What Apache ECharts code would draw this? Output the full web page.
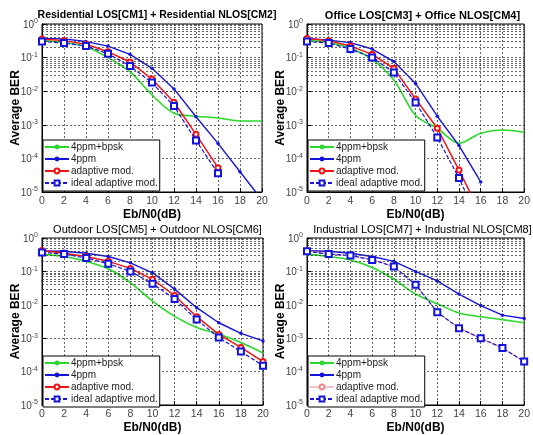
<!DOCTYPE html>
<html>
<head>
<meta charset="utf-8">
<script src="https://cdn.jsdelivr.net/npm/echarts@6/dist/echarts.min.js"></script>
<style>
html,body{margin:0;padding:0;background:#fff;}
#chart{width:533px;height:435px;}
</style>
</head>
<body>
<div id="chart"></div>
<script>
const ebn0 = [0, 2, 4, 6, 8, 10, 12, 14, 16, 18, 20];
const xTicks = [0, 2, 4, 6, 8, 10, 12, 14, 16, 18, 20];
const seriesNames = ['4ppm+bpsk', '4ppm', 'adaptive mod.', 'ideal adaptive mod.'];
const panelTitles = ['Residential LOS[CM1] + Residential NLOS[CM2]', 'Office LOS[CM3] + Office NLOS[CM4]',
  'Outdoor LOS[CM5] + Outdoor NLOS[CM6]', 'Industrial LOS[CM7] + Industrial NLOS[CM8]'];

// Residential
const resBpsk = [0.33, 0.28, 0.21, 0.10, 0.038, 0.0077, 0.0022, 0.0018, 0.0016, 0.0013, 0.0013];
const resPpm = [0.37, 0.36, 0.30, 0.22, 0.125, 0.048, 0.0117, 0.00174, 0.00028, 4.0e-5, 5.8e-6];
const resAdapt = [0.36, 0.32, 0.25, 0.15, 0.074, 0.023, 0.0047, 5.2e-4, 5.3e-5];
const resIdeal = [0.30, 0.27, 0.22, 0.13, 0.056, 0.018, 0.0036, 3.4e-4, 3.6e-5];
// Office
const offBpsk = [0.33, 0.28, 0.19, 0.089, 0.0215, 0.0019, 7.9e-4, 2.8e-4, 5.6e-4, 7.0e-4, 6.0e-4];
const offPpm = [0.37, 0.33, 0.28, 0.18, 0.076, 0.017, 0.0018, 2.4e-4, 2.0e-5];
const offAdapt = [0.37, 0.32, 0.22, 0.125, 0.048, 0.0059, 7.9e-4, 4.5e-5, 2.2e-6];
const offIdeal = [0.30, 0.27, 0.18, 0.10, 0.036, 0.0046, 4.2e-4, 2.6e-5, 1.0e-6];
// Outdoor
const outBpsk = [0.33, 0.28, 0.20, 0.12, 0.046, 0.0128, 0.0045, 0.0021, 0.00134, 7.4e-4, 3.6e-4];
const outPpm = [0.41, 0.40, 0.35, 0.28, 0.18, 0.091, 0.0295, 0.0082, 0.0029, 0.0014, 8.3e-4];
const outAdapt = [0.42, 0.35, 0.28, 0.20, 0.123, 0.058, 0.019, 0.0044, 0.0013, 5.3e-4, 2.0e-4];
const outIdeal = [0.37, 0.33, 0.25, 0.17, 0.10, 0.043, 0.015, 0.0036, 0.00105, 4.0e-4, 1.5e-4];
// Industrial
const indBpsk = [0.33, 0.28, 0.22, 0.13, 0.058, 0.021, 0.0107, 0.0057, 0.0044, 0.0036, 0.0029];
const indPpm = [0.42, 0.40, 0.35, 0.28, 0.20, 0.10, 0.052, 0.021, 0.0095, 0.0049, 0.0039];
const indAdapt = [0.42, 0.33, 0.30, 0.23, 0.14, 0.040, 0.006, 0.0020, 0.0010, 5.1e-4, 2.0e-4];
const indIdeal = [0.40, 0.33, 0.30, 0.22, 0.14, 0.040, 0.006, 0.0020, 0.0010, 5.1e-4, 2.0e-4];

const panels = [
  [resBpsk, resPpm, resAdapt, resIdeal],
  [offBpsk, offPpm, offAdapt, offIdeal],
  [outBpsk, outPpm, outAdapt, outIdeal],
  [indBpsk, indPpm, indAdapt, indIdeal]
];

const grids = [
  {left: 42, top: 24, width: 220, height: 168},
  {left: 307, top: 24, width: 221, height: 168},
  {left: 42, top: 238, width: 221, height: 170},
  {left: 307, top: 238, width: 221, height: 170}
];

const FONT = 'Liberation Sans, Arial, sans-serif';
const GREEN = '#2ad82a', BLUE = '#1414dc', RED = '#f01414', PINK = '#f08a8a';
const gridLine = {color: '#333', width: 1, type: [2, 2], opacity: 0.75};

const minorVals = [];
for (let d = -5; d <= -1; d++) for (let k = 2; k <= 9; k++) minorVals.push(+(k * Math.pow(10, d)).toPrecision(3));

function pairs(vals) { return vals.map((v, i) => [ebn0[i], v]); }

const option = {
  animation: false,
  backgroundColor: '#fff',
  textStyle: {fontFamily: FONT},
  title: panelTitles.map((t, i) => ({
    text: t,
    left: grids[i].left + grids[i].width / 2,
    top: i < 2 ? 5 : 219,
    textAlign: 'center',
    textStyle: {fontFamily: FONT, fontSize: i === 0 ? 10.5 : 11, fontWeight: i < 2 ? 'bold' : 'normal', color: '#000'}
  })),
  grid: grids.map(g => Object.assign({show: true, borderColor: '#000', borderWidth: 1, backgroundColor: '#fff'}, g)),
  xAxis: grids.map((g, i) => ({
    gridIndex: i, type: 'value', min: 0, max: 20, interval: 2,
    name: 'Eb/N0(dB)', nameLocation: 'middle', nameGap: 17, nameMoveOverlap: false,
    nameTextStyle: {fontFamily: FONT, fontSize: 12, fontWeight: 'bold', color: '#000'},
    axisLine: {show: true, lineStyle: {color: '#000'}},
    axisTick: {show: true, inside: true, length: 4, lineStyle: {color: '#000'}},
    axisLabel: {fontFamily: FONT, fontSize: 10.5, color: '#444', margin: 4,
      formatter: v => xTicks.indexOf(v) >= 0 ? String(v) : ''},
    splitLine: {show: true, lineStyle: gridLine}
  })),
  yAxis: grids.map((g, i) => ({
    gridIndex: i, type: 'log', logBase: 10, min: 1e-5, max: 1, interval: 1,
    name: 'Average BER', nameLocation: 'middle', nameGap: 20, nameMoveOverlap: false,
    nameTextStyle: {fontFamily: FONT, fontSize: 12, fontWeight: 'bold', color: '#000'},
    axisLine: {show: true, lineStyle: {color: '#000'}},
    axisTick: {show: true, inside: true, length: 4, lineStyle: {color: '#000'}},
    axisLabel: {fontFamily: FONT, color: '#444', margin: 4,
      formatter: v => '{b|10}{s|' + Math.round(Math.log10(v)) + '}',
      rich: {b: {fontSize: 10, fontFamily: FONT, color: '#444', verticalAlign: 'bottom', lineHeight: 12},
             s: {fontSize: 7, fontFamily: FONT, color: '#444', verticalAlign: 'top', lineHeight: 12}}},
    splitLine: {show: true, lineStyle: gridLine}
  })),
  legend: grids.map((g, i) => ({
    orient: 'vertical',
    left: g.left + 1,
    bottom: 435 - (g.top + g.height) + 1,
    backgroundColor: '#fff', borderColor: '#000', borderWidth: 1,
    padding: [1, 2, 2, 1], itemGap: 0, itemWidth: 24, itemHeight: 6,
    textStyle: {fontFamily: FONT, fontSize: 10, color: '#222', lineHeight: 12, padding: [0, 0, 0, -3]},
    data: seriesNames.map(n => (i === 3 && n === 'adaptive mod.') ?
      {name: n, itemStyle: {color: PINK}, lineStyle: {color: PINK, width: 1}} : {name: n})
  })),
  series: []
};

panels.forEach((p, i) => {
  option.series.push({
    type: 'line', xAxisIndex: i, yAxisIndex: i, data: [], silent: true, z: 1,
    markLine: {silent: true, symbol: ['none', 'none'], label: {show: false},
      lineStyle: gridLine, data: minorVals.map(v => ({yAxis: v}))}
  });
  option.series.push({
    name: seriesNames[0], type: 'line', xAxisIndex: i, yAxisIndex: i, data: pairs(p[0]),
    showSymbol: false, symbol: 'none', smooth: 0.3, clip: true, z: 3,
    lineStyle: {color: GREEN, width: 1.6}, itemStyle: {color: GREEN}
  });
  option.series.push({
    name: seriesNames[1], type: 'line', xAxisIndex: i, yAxisIndex: i, data: pairs(p[1]),
    symbol: 'circle', symbolSize: 3.5, clip: true, z: 4,
    lineStyle: {color: BLUE, width: 1.4}, itemStyle: {color: BLUE}
  });
  const lightRed = i === 3;
  const rc = lightRed ? PINK : RED;
  option.series.push({
    name: seriesNames[2], type: 'line', xAxisIndex: i, yAxisIndex: i, data: pairs(p[2]),
    symbol: 'emptyCircle', symbolSize: 5, clip: true, z: 5,
    lineStyle: {color: rc, width: lightRed ? 1 : 1.5},
    itemStyle: {color: rc, borderWidth: 1.2}
  });
  option.series.push({
    name: seriesNames[3], type: 'line', xAxisIndex: i, yAxisIndex: i, data: pairs(p[3]),
    symbol: 'emptyRect', symbolSize: 6, clip: true, z: 6,
    lineStyle: {color: BLUE, width: 1.2, type: [4, 2]},
    itemStyle: {color: BLUE, borderWidth: 1.3}
  });
});

const chart = echarts.init(document.getElementById('chart'), null, {renderer: 'canvas'});
chart.setOption(option);
</script>
</body>
</html>
